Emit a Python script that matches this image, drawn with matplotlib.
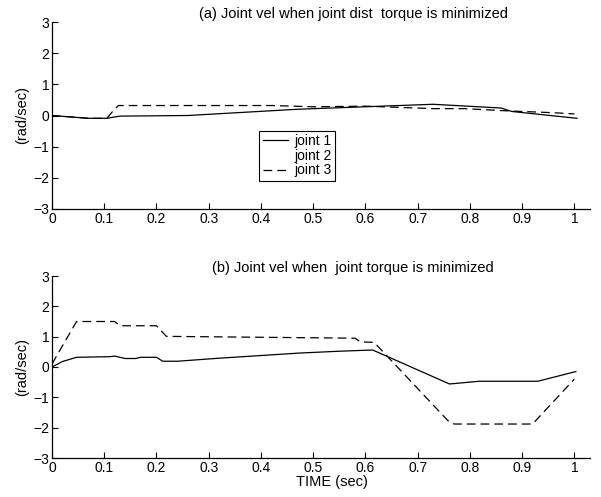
import matplotlib
matplotlib.use("Agg")
import matplotlib.pyplot as plt
from matplotlib.lines import Line2D

plt.rcParams['font.family'] = ['Liberation Sans', 'DejaVu Sans']

# ---- data (a) joint dist torque minimized ----
t_a_j1 = [0, 0.07, 0.105, 0.13, 0.26, 0.47, 0.55, 0.73, 0.86, 0.88, 1.005]
v_a_j1 = [0, -0.09, -0.09, -0.02, 0, 0.2, 0.25, 0.36, 0.24, 0.13, -0.09]
t_a_j3 = [0, 0.07, 0.105, 0.115, 0.127, 0.42, 0.5, 0.6, 0.73, 0.79, 0.87, 0.96, 1.0]
v_a_j3 = [0, -0.09, -0.09, 0.11, 0.32, 0.32, 0.28, 0.3, 0.22, 0.22, 0.15, 0.09, 0.05]

# ---- data (b) joint torque minimized ----
t_b_j1 = [0, 0.02, 0.047, 0.11, 0.12, 0.14, 0.16, 0.17, 0.2, 0.212, 0.24, 0.32,
          0.474, 0.55, 0.614, 0.761, 0.818, 0.93, 1.003]
v_b_j1 = [0, 0.18, 0.32, 0.34, 0.36, 0.28, 0.28, 0.32, 0.32, 0.19, 0.19, 0.29,
          0.46, 0.52, 0.56, -0.56, -0.47, -0.47, -0.15]
t_b_j3 = [0, 0.047, 0.12, 0.13, 0.2, 0.219, 0.58, 0.59, 0.617, 0.758, 0.77, 0.92, 1.0]
v_b_j3 = [0.1, 1.5, 1.5, 1.36, 1.36, 1.01, 0.95, 0.83, 0.81, -1.77, -1.88, -1.88, -0.4]

xticks = [0, 0.1, 0.2, 0.3, 0.4, 0.5, 0.6, 0.7, 0.8, 0.9, 1]
xticklabels = ['0', '0.1', '0.2', '0.3', '0.4', '0.5', '0.6', '0.7', '0.8', '0.9', '1']
yticks = [-3, -2, -1, 0, 1, 2, 3]
legend_labels = ['joint 1', 'joint 2', 'joint 3']
title_a = '(a) Joint vel when joint dist  torque is minimized'
title_b = '(b) Joint vel when  joint torque is minimized'

fig = plt.figure(figsize=(6.01, 4.97), dpi=100)
W, H = 601, 497

def make_ax(top_px, bottom_px):
    left, right = 52, 590
    return fig.add_axes([left / W, 1 - bottom_px / H, (right - left) / W, (bottom_px - top_px) / H])

ax1 = make_ax(22, 209)
ax2 = make_ax(276, 458)

dash = (7, 4)
for ax in (ax1, ax2):
    ax.set_xlim(0, 1.03)
    ax.set_ylim(-3, 3)
    ax.set_xticks(xticks)
    ax.set_xticklabels(xticklabels)
    ax.set_yticks(yticks)
    ax.spines['top'].set_visible(False)
    ax.spines['right'].set_visible(False)
    ax.spines['left'].set_linewidth(0.9)
    ax.spines['bottom'].set_linewidth(0.9)
    ax.tick_params(direction='in', length=4, width=0.8, labelsize=10, pad=2)
    ax.set_ylabel('(rad/sec)', fontsize=10.5, labelpad=3)

ax1.plot(t_a_j1, v_a_j1, color='black', lw=0.9)
ax1.plot(t_a_j3, v_a_j3, color='black', lw=0.9, dashes=dash)
ax1.set_title(title_a, fontsize=10.5, pad=3, x=0.56)

ax2.plot(t_b_j1, v_b_j1, color='black', lw=0.9)
ax2.plot(t_b_j3, v_b_j3, color='black', lw=0.9, dashes=dash)
ax2.set_title(title_b, fontsize=10.5, pad=3, x=0.56)
ax2.set_xlabel('TIME (sec)', fontsize=10.5, labelpad=0, x=0.52)

handles = [Line2D([], [], color='black', lw=0.9),
           Line2D([], [], color='white', lw=0.9),
           Line2D([], [], color='black', lw=0.9, dashes=dash)]
leg = ax1.legend(handles, legend_labels, loc='lower left', bbox_to_anchor=(0.385, 0.15),
                 fontsize=10, frameon=True, fancybox=False, edgecolor='black',
                 framealpha=1, handlelength=1.8, handletextpad=0.5, borderpad=0.25,
                 labelspacing=0.05, borderaxespad=0)
leg.get_frame().set_linewidth(0.8)

fig.savefig('out.png', dpi=100)
